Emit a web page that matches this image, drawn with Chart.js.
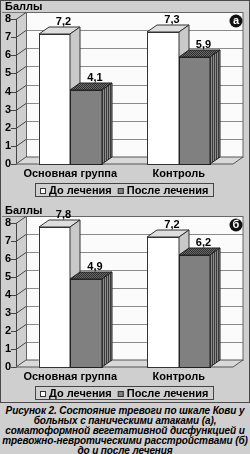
<!DOCTYPE html>
<html>
<head>
<meta charset="utf-8">
<script src="https://cdn.jsdelivr.net/npm/chart.js@4/dist/chart.umd.min.js"></script>
<style>
  html, body { margin:0; padding:0; background:#cfcfcf; }
  body { width:250px; height:454px; position:relative; overflow:hidden; font-family:"Liberation Sans", Arial, sans-serif; }
  #frame { position:absolute; left:0; top:0; width:250px; height:403px; box-sizing:border-box; border:1px solid #4a4a4a; }
  .wrap { position:absolute; left:0; width:250px; }
  #wa { top:0; height:198px; }
  #wb { top:198px; height:204px; }
  #caption { position:absolute; left:0; top:406px; width:250px; text-align:center; font:italic bold 10px "Liberation Sans", Arial, sans-serif; line-height:10px; color:#000; letter-spacing:-0.1px; }
</style>
</head>
<body>
<div id="frame"></div>
<div class="wrap" id="wa"><canvas id="ca" width="250" height="198"></canvas></div>
<div class="wrap" id="wb"><canvas id="cb" width="250" height="204"></canvas></div>
<div id="caption">Рисунок 2. Состояние тревоги по шкале Кови у<br>больных с паническими атаками (а),<br>соматоформной вегетативной дисфункцией и<br>тревожно-невротическими расстройствами (б)<br>до и после лечения</div>
<script>
const categories = ['Основная группа', 'Контроль'];
const seriesNames = ['До лечения', 'После лечения'];
const beforeA = [7.2, 7.3];
const afterA  = [4.1, 5.9];
const beforeB = [7.8, 7.2];
const afterB  = [4.9, 6.2];
const yTicks = [0, 1, 2, 3, 4, 5, 6, 7, 8];
const yTitle = 'Баллы';

const FONT = '"Liberation Sans", Arial, sans-serif';
const DX = 10, DY = -7;

function makePattern(w, h, fn) {
  const c = document.createElement('canvas'); c.width = w; c.height = h;
  const g = c.getContext('2d'); fn(g); return g.createPattern ? c : c;
}
function pat(ctx, w, h, fn) {
  const c = document.createElement('canvas'); c.width = w; c.height = h;
  fn(c.getContext('2d'));
  return ctx.createPattern(c, 'repeat');
}

const styles = [
  { front:'#ffffff', top:'#dedede', side:'#c9c9c9', stroke:'#333' },
  { front:'#808080', top:null, side:null, stroke:'#222' }
];

const threeD = {
  id: 'threeD',
  beforeDatasetsDraw(chart) {
    const { ctx, chartArea: a, scales: { y } } = chart;
    const L = a.left, R = a.right;
    const top = y.getPixelForValue(8), bot = y.getPixelForValue(0);
    ctx.save();
    // back wall
    ctx.fillStyle = '#fbfbfb';
    ctx.fillRect(L + DX, top + DY, R - L, bot - top);
    // line left of title to wall
    ctx.strokeStyle = '#777'; ctx.lineWidth = 1;
    ctx.beginPath(); ctx.moveTo(2, top + DY + 0.5); ctx.lineTo(L + DX, top + DY + 0.5); ctx.stroke();
    // gridlines
    ctx.strokeStyle = '#8a8a8a';
    yTicks.forEach(v => {
      const yy = Math.round(y.getPixelForValue(v) + DY) + 0.5;
      ctx.beginPath(); ctx.moveTo(L + DX, yy); ctx.lineTo(R + DX, yy); ctx.stroke();
    });
    ctx.strokeStyle = '#666';
    ctx.strokeRect(L + DX + 0.5, Math.round(top + DY) + 0.5, R - L - 0.5, bot - top);
    // left wall
    ctx.strokeStyle = '#444';
    yTicks.forEach(v => {
      const yy = Math.round(y.getPixelForValue(v)) + 0.5;
      ctx.beginPath(); ctx.moveTo(L - 5, yy); ctx.lineTo(L, yy); ctx.lineTo(L + DX, yy + DY); ctx.stroke();
    });
    ctx.beginPath(); ctx.moveTo(L + 0.5, top); ctx.lineTo(L + 0.5, bot); ctx.stroke();
    // floor
    ctx.beginPath();
    ctx.moveTo(L, bot); ctx.lineTo(R, bot); ctx.lineTo(R + DX, bot + DY); ctx.lineTo(L + DX, bot + DY); ctx.closePath();
    ctx.fillStyle = '#d9d9d9'; ctx.fill();
    ctx.strokeStyle = '#555'; ctx.stroke();
    ctx.restore();
  },
  afterDatasetsDraw(chart, args, opts) {
    const { ctx, chartArea: a } = chart;
    const topPat = pat(ctx, 2, 2, g => { g.fillStyle = '#6a6a6a'; g.fillRect(0,0,2,2); g.fillStyle = '#2e2e2e'; g.fillRect(0,0,1,1); g.fillRect(1,1,1,1); });
    const sidePat = pat(ctx, 2, 1, g => { g.fillStyle = '#8c8c8c'; g.fillRect(0,0,2,1); g.fillStyle = '#3a3a3a'; g.fillRect(0,0,1,1); });
    ctx.save();
    ctx.lineWidth = 1;
    const n = chart.data.labels.length;
    for (let i = 0; i < n; i++) {
      chart.data.datasets.forEach((ds, d) => {
        const el = chart.getDatasetMeta(d).data[i];
        const st = styles[d];
        const l = Math.round(el.x - el.width / 2), r = Math.round(el.x + el.width / 2);
        const t = Math.round(el.y), b = Math.round(el.base);
        // front
        ctx.fillStyle = st.front; ctx.fillRect(l, t, r - l, b - t);
        ctx.strokeStyle = st.stroke; ctx.strokeRect(l + 0.5, t + 0.5, r - l, b - t);
        // top
        ctx.beginPath(); ctx.moveTo(l, t); ctx.lineTo(r, t); ctx.lineTo(r + DX, t + DY); ctx.lineTo(l + DX, t + DY); ctx.closePath();
        ctx.fillStyle = st.top || topPat; ctx.fill(); ctx.strokeStyle = st.stroke; ctx.stroke();
        // side
        ctx.beginPath(); ctx.moveTo(r, t); ctx.lineTo(r + DX, t + DY); ctx.lineTo(r + DX, b + DY); ctx.lineTo(r, b); ctx.closePath();
        ctx.fillStyle = st.side || sidePat; ctx.fill(); ctx.stroke();
      });
    }
    // value labels
    ctx.fillStyle = '#000'; ctx.font = 'bold 11px ' + FONT; ctx.textAlign = 'center'; ctx.textBaseline = 'middle';
    chart.data.datasets.forEach((ds, d) => {
      chart.getDatasetMeta(d).data.forEach((el, i) => {
        ctx.fillText(ds.data[i].toFixed(1).replace('.', ','), el.x + DX / 2 + 4, el.y - 12);
      });
    });
    ctx.restore();
  },
  afterDraw(chart, args, opts) {
    const { ctx, chartArea: a, scales: { y } } = chart;
    ctx.save();
    // title
    ctx.fillStyle = '#000'; ctx.font = 'bold 11px ' + FONT; ctx.textAlign = 'left'; ctx.textBaseline = 'middle';
    ctx.fillText(yTitle, 5, a.top - 12);
    // badge
    const cx = 236, cy = a.top + 2;
    ctx.beginPath(); ctx.arc(cx, cy, 6.5, 0, Math.PI * 2); ctx.fillStyle = '#111'; ctx.fill();
    ctx.fillStyle = '#fff'; ctx.font = 'bold 11px ' + FONT; ctx.textAlign = 'center';
    ctx.fillText(opts.badge, cx, cy);
    // legend
    ctx.font = 'bold 11px ' + FONT; ctx.textAlign = 'left';
    const labels = chart.data.datasets.map(ds => ds.label);
    const sq = 6, pad = 5, gapS = 3, gapI = 6;
    const widths = labels.map(t => ctx.measureText(t).width);
    const total = pad + sq + gapS + widths[0] + gapI + sq + gapS + widths[1] + pad;
    const x1 = Math.round(124 - total / 2), y1 = Math.round(a.bottom + 19), h = 13;
    ctx.strokeStyle = '#444'; ctx.lineWidth = 1;
    ctx.strokeRect(x1 + 0.5, y1 + 0.5, Math.round(total), h);
    let x = x1 + pad;
    const cyL = y1 + h / 2 + 1;
    labels.forEach((t, k) => {
      ctx.fillStyle = styles[k].front; ctx.fillRect(x, Math.round(cyL - sq / 2), sq, sq);
      ctx.strokeStyle = '#333'; ctx.strokeRect(x + 0.5, Math.round(cyL - sq / 2) + 0.5, sq - 1, sq - 1);
      x += sq + gapS;
      ctx.fillStyle = '#000'; ctx.fillText(t, x, cyL);
      x += widths[k] + gapI;
    });
    ctx.restore();
  }
};

function build(id, before, after, topPad, xh, badge) {
  return new Chart(document.getElementById(id), {
    type: 'bar',
    data: {
      labels: categories,
      datasets: [
        { label: seriesNames[0], data: before, backgroundColor: '#ffffff' },
        { label: seriesNames[1], data: after, backgroundColor: '#808080' }
      ]
    },
    options: {
      responsive: false, animation: false, devicePixelRatio: 1,
      layout: { padding: { top: topPad, right: 17, left: 0, bottom: 0 } },
      plugins: { legend: { display: false }, tooltip: { enabled: false }, threeD: { badge } },
      datasets: { bar: { categoryPercentage: 0.58, barPercentage: 1 } },
      scales: {
        x: {
          grid: { display: false, drawTicks: false }, border: { display: false },
          ticks: { color: '#000', font: { family: FONT, size: 11, weight: 'bold' }, padding: 3, maxRotation: 0, autoSkip: false },
          afterFit: s => { s.height = xh; }
        },
        y: {
          min: 0, max: 8,
          grid: { display: false, drawTicks: false }, border: { display: false },
          ticks: { stepSize: 1, color: '#000', font: { family: FONT, size: 11, weight: 'bold' }, padding: 5 },
          afterBuildTicks: s => { s.ticks = yTicks.map(v => ({ value: v })); },
          afterFit: s => { s.width = 16; }
        }
      }
    },
    plugins: [threeD]
  });
}
build('ca', beforeA, afterA, 19, 34, 'а');
build('cb', beforeB, afterB, 25, 35, 'б');
</script>
</body>
</html>
